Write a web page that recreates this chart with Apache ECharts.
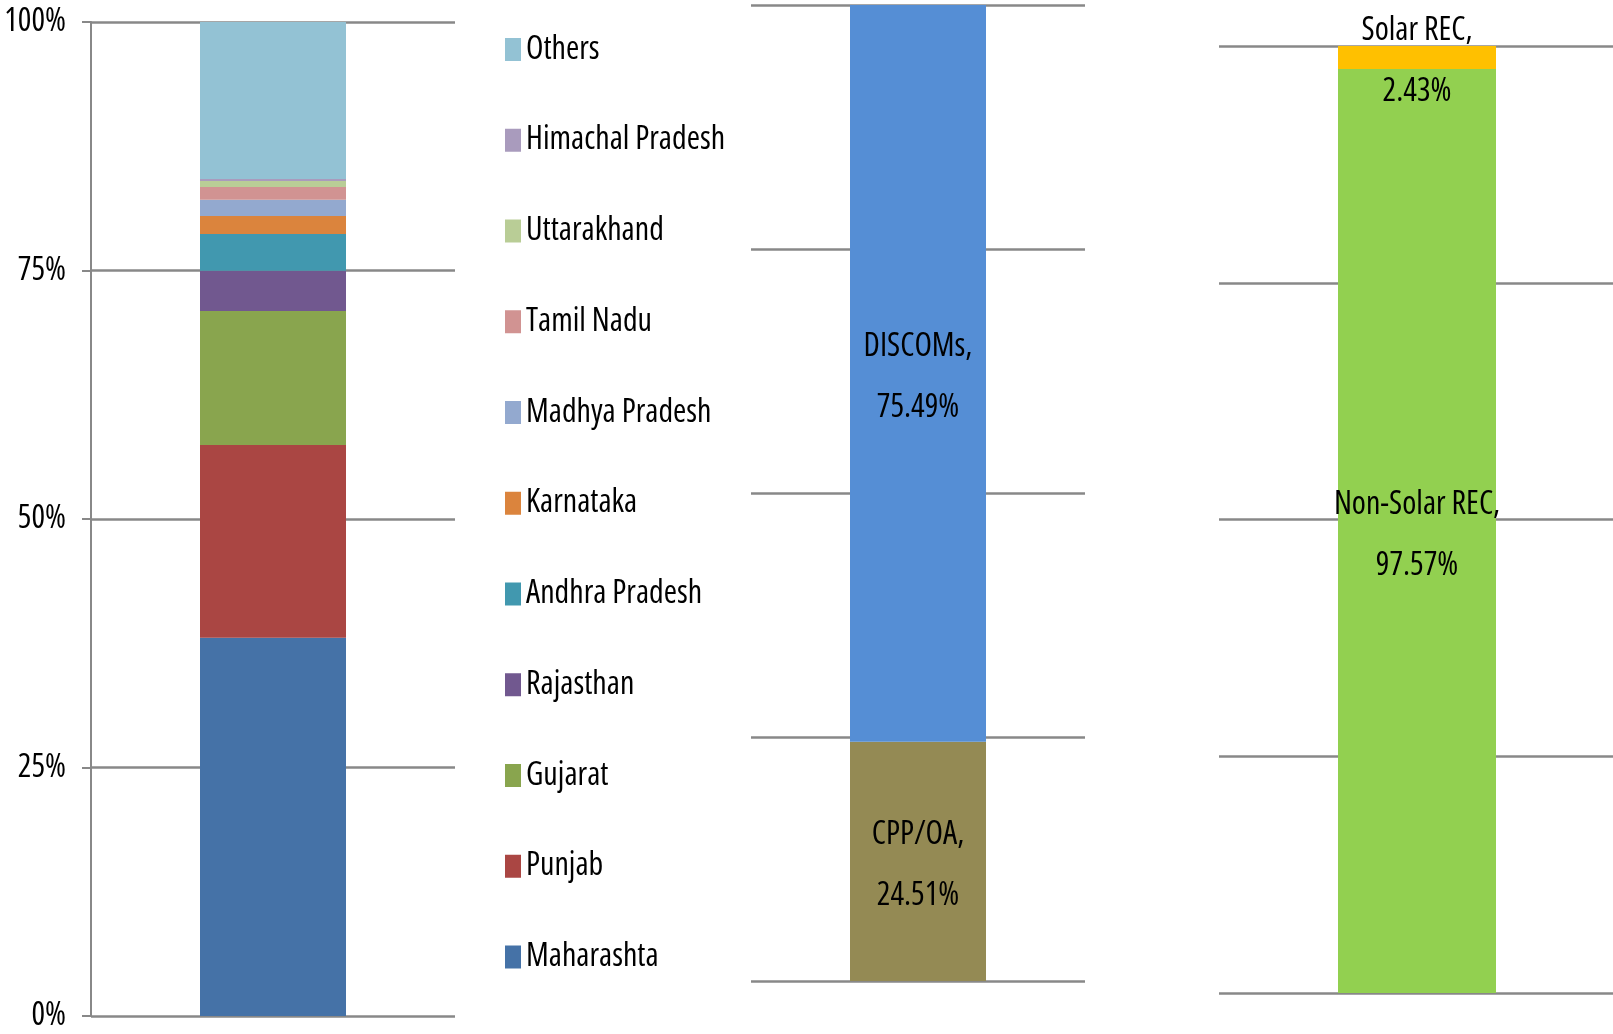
<!DOCTYPE html>
<html>
<head>
<meta charset="utf-8">
<script src="https://cdn.jsdelivr.net/npm/echarts@6/dist/echarts.min.js"></script>
<style>
  html, body { margin: 0; padding: 0; background: #fff; }
  #chart { width: 1613px; height: 1034px; }
</style>
</head>
<body>
<div id="chart"></div>
<script>
// State-wise share (bottom to top of the first stacked bar)
const stateNames = ['Maharashta', 'Punjab', 'Gujarat', 'Rajasthan', 'Andhra Pradesh', 'Karnataka',
  'Madhya Pradesh', 'Tamil Nadu', 'Uttarakhand', 'Himachal Pradesh', 'Others'];
const stateShares = [38.06, 19.39, 13.48, 4.05, 3.69, 1.81, 1.64, 1.28, 0.60, 0.20, 15.80];
const stateColors = ['#4572A7', '#AA4643', '#89A54E', '#71588F', '#4198AF', '#DB843D',
  '#93A9CF', '#D19392', '#B9CD96', '#A99BBD', '#93C2D4'];

// Buyer category share
const buyerNames = ['CPP/OA', 'DISCOMs'];
const buyerShares = [24.51, 75.49];
const buyerColors = ['#948A54', '#558ED5'];

// REC type share
const recNames = ['Non-Solar REC', 'Solar REC'];
const recShares = [97.57, 2.43];
const recColors = ['#92D050', '#FFC000'];

const yTicks = ['0%', '25%', '50%', '75%', '100%'];

// narrow face requested through the font-stretch slot of the font shorthand
const FONT = "'Open Sans', 'Noto Sans', Roboto, sans-serif";
const STRETCH = 'normal condensed';
const GRID_GRAY = '#888888';

const chart = echarts.init(document.getElementById('chart'), null, { renderer: 'canvas' });

function valueAxis(gridIndex, showLabels) {
  return {
    type: 'value', gridIndex, min: 0, max: 100, interval: 25,
    axisLine: { show: showLabels, lineStyle: { color: GRID_GRAY, width: 2 } },
    axisTick: { show: showLabels, length: 9, lineStyle: { color: GRID_GRAY, width: 2 } },
    splitLine: { show: true, lineStyle: { color: GRID_GRAY, width: 2.5 } },
    axisLabel: {
      show: showLabels, margin: 25, color: '#000', fontFamily: FONT, fontWeight: STRETCH, fontSize: 32,
      formatter: v => yTicks[Math.round(v / 25)]
    }
  };
}

function catAxis(gridIndex) {
  return {
    type: 'category', gridIndex, data: [''],
    axisLine: { show: false }, axisTick: { show: false }, axisLabel: { show: false }
  };
}

const series = [];
stateNames.forEach((n, i) => series.push({
  name: n, type: 'bar', stack: 'states', xAxisIndex: 0, yAxisIndex: 0,
  barWidth: 146, data: [stateShares[i]], itemStyle: { color: stateColors[i] },
  emphasis: { disabled: true }
}));

const pctLabel = {
  show: true, position: 'inside', offset: [0, 4], color: '#000', fontFamily: FONT, fontWeight: STRETCH,
  fontSize: 32, lineHeight: 61,
  formatter: p => p.seriesName + ',\n' + p.value.toFixed(2) + '%'
};
buyerNames.forEach((n, i) => series.push({
  name: n, type: 'bar', stack: 'buyers', xAxisIndex: 1, yAxisIndex: 1,
  barWidth: 136, data: [buyerShares[i]], itemStyle: { color: buyerColors[i] },
  label: pctLabel, emphasis: { disabled: true }
}));
recNames.forEach((n, i) => series.push({
  name: n, type: 'bar', stack: 'rec', xAxisIndex: 2, yAxisIndex: 2,
  barWidth: 158, data: [recShares[i]], itemStyle: { color: recColors[i] },
  label: pctLabel, emphasis: { disabled: true }
}));

chart.setOption({
  animation: false,
  backgroundColor: '#fff',
  grid: [
    { left: 91, top: 22, width: 364, height: 994, outerBoundsMode: 'none' },
    { left: 751, top: 5, width: 334, height: 976, outerBoundsMode: 'none' },
    { left: 1219, top: 46, width: 396, height: 947, outerBoundsMode: 'none' }
  ],
  xAxis: [catAxis(0), catAxis(1), catAxis(2)],
  yAxis: [valueAxis(0, true), valueAxis(1, false), valueAxis(2, false)],
  legend: {
    orient: 'vertical', left: 505, top: 33.5, padding: 0,
    data: stateNames.slice().reverse(),
    itemWidth: 16, itemHeight: 23, itemGap: 58.75,
    icon: 'rect', selectedMode: false,
    textStyle: { color: '#000', fontFamily: FONT, fontWeight: STRETCH, fontSize: 32 }
  },
  series
});
</script>
</body>
</html>
